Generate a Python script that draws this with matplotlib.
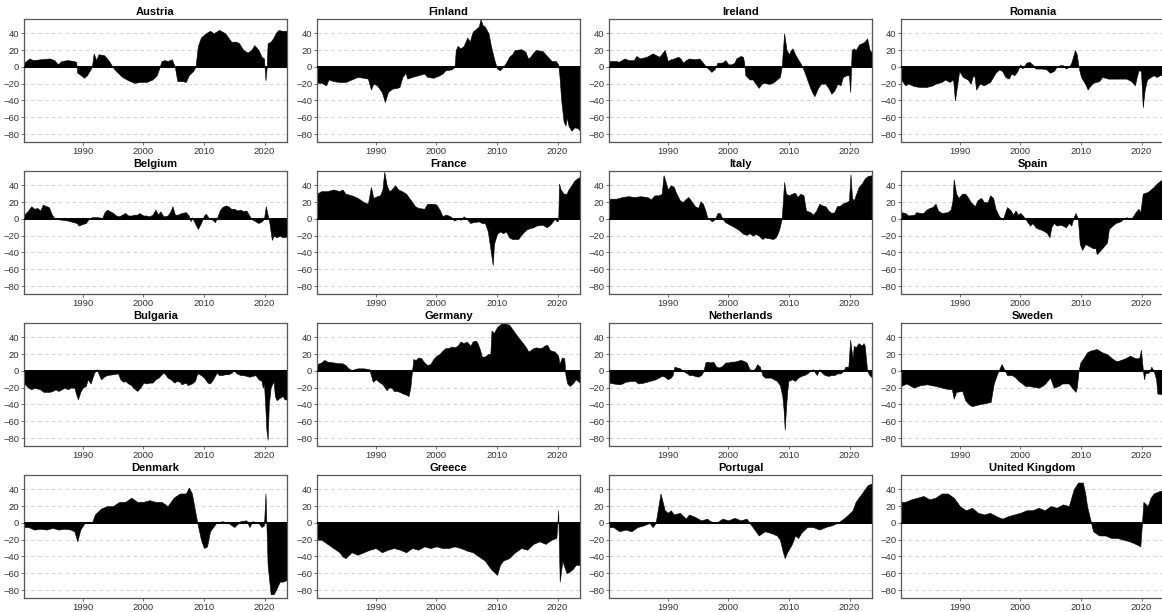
import numpy as np
import matplotlib
matplotlib.use("Agg")
import matplotlib.pyplot as plt

plt.rcParams['font.family'] = ['Liberation Sans', 'DejaVu Sans']

countries = ["Austria", "Finland", "Ireland", "Romania",
             "Belgium", "France", "Italy", "Spain",
             "Bulgaria", "Germany", "Netherlands", "Sweden",
             "Denmark", "Greece", "Portugal", "United Kingdom"]

y_ticks = [-80, -60, -40, -20, 0, 20, 40]
x_ticks = [1990, 2000, 2010, 2020]

austria = [(1980.3,5),(1981.2,10),(1981.8,8),(1983,9),(1984.5,10),(1985.3,8),(1985.9,3),(1986.5,7),(1987.5,8),(1988.5,7),(1988.9,6),(1989.1,-7),(1989.7,-10),(1990.2,-13),(1990.7,-10),(1991.1,-5),(1991.5,0),(1991.8,16),(1992.2,8),(1992.6,15),(1993.5,14),(1994,10),(1994.5,5),(1994.9,0),(1995.5,-5),(1996.5,-12),(1997.5,-16),(1998.5,-19),(1999.5,-18),(2000.5,-18),(2001.5,-15),(2002.2,-10),(2002.6,-2),(2003,7),(2003.5,8),(2004,7),(2004.7,9),(2005.2,0),(2005.6,-17),(2006.5,-17),(2007,-18),(2007.5,-10),(2008.2,-5),(2008.6,0),(2009,25),(2009.5,35),(2010.3,40),(2011,43),(2011.6,40),(2012.5,44),(2013.5,40),(2014.5,30),(2015.3,30),(2015.8,28),(2016.5,20),(2017.2,17),(2017.8,20),(2018.3,26),(2019,20),(2019.5,12),(2019.9,10),(2020.15,-16),(2020.35,0),(2020.5,28),(2021,30),(2021.5,35),(2021.8,40),(2022.3,44),(2022.8,43),(2023.7,43)]

finland = [(1980.3,-19),(1981,-19),(1981.8,-22),(1982.2,-15),(1983,-17),(1984,-18),(1985,-18),(1986,-15),(1987,-12),(1988,-13),(1988.7,-14),(1989.2,-27),(1989.6,-20),(1990.2,-22),(1991,-30),(1991.5,-42),(1992,-30),(1992.7,-26),(1993.5,-25),(1993.9,-24),(1994.4,-12),(1994.9,-7),(1995.2,-14),(1996,-12),(1997,-10),(1998,-8),(1998.5,-12),(1999.5,-13),(2000.5,-10),(2001,-8),(2001.5,-4),(2002.5,-3),(2003,0),(2003.2,20),(2003.5,25),(2004,22),(2004.5,25),(2005.1,35),(2005.5,30),(2006,42),(2006.5,45),(2007,48),(2007.3,57),(2007.6,50),(2008,48),(2008.6,40),(2009,25),(2009.5,10),(2010,-2),(2010.5,-4),(2011,0),(2011.5,5),(2012,12),(2012.5,15),(2012.9,20),(2014,21),(2014.7,18),(2015.1,10),(2015.5,12),(2016,17),(2016.4,20),(2017.5,19),(2018,15),(2019,7),(2019.7,7),(2020.1,3),(2020.3,-10),(2020.6,-40),(2021,-65),(2021.3,-70),(2021.5,-60),(2021.8,-70),(2022.3,-76),(2022.8,-72),(2023.3,-73),(2023.7,-76)]

ireland = [(1980.3,7),(1981.5,7),(1981.9,6),(1982.9,10),(1983.5,8),(1984.4,8),(1984.8,13),(1985.4,10),(1986.5,12),(1987.5,16),(1988.6,12),(1989.5,20),(1990,7),(1990.5,9),(1991,10),(1991.7,12),(1992.1,10),(1992.5,5),(1993,8),(1993.5,10),(1994.5,9),(1995.2,10),(1995.8,5),(1996.3,0),(1996.8,-3),(1997.2,-6),(1997.8,-2),(1998.2,5),(1999,5),(1999.5,8),(2000,3),(2000.5,3),(2001,5),(2001.3,10),(2002,13),(2002.4,12),(2002.6,5),(2002.8,-10),(2003.5,-15),(2004,-15),(2004.5,-20),(2005,-25),(2005.5,-20),(2006,-19),(2006.5,-20),(2007,-20),(2007.5,-18),(2008,-15),(2008.5,-12),(2008.8,0),(2009.2,40),(2009.6,20),(2010,15),(2010.3,20),(2010.6,22),(2011,15),(2011.4,10),(2012,3),(2012.5,-5),(2013,-15),(2013.5,-25),(2013.8,-30),(2014.2,-35),(2014.8,-25),(2015.3,-20),(2016,-20),(2016.5,-25),(2017,-32),(2017.5,-28),(2018,-20),(2018.5,-22),(2018.9,-12),(2019.5,-10),(2019.9,-10),(2020.1,-30),(2020.2,-10),(2020.35,20),(2020.7,22),(2021,20),(2021.6,27),(2022,28),(2022.5,30),(2022.9,34),(2023.3,20),(2023.7,17)]

romania = [(1980.3,-15),(1981,-22),(1981.5,-20),(1982.5,-23),(1983.5,-24),(1984.5,-24),(1985.5,-22),(1986,-20),(1987,-18),(1987.6,-15),(1988.3,-18),(1988.9,-15),(1989.2,-40),(1989.5,-25),(1989.9,-5),(1990.5,-12),(1991.3,-15),(1991.8,-20),(1992.1,-12),(1992.4,-10),(1992.7,-27),(1993.3,-20),(1994,-22),(1995,-18),(1995.9,-7),(1996.5,-3),(1997,-5),(1997.5,-12),(1998.1,-14),(1998.5,-8),(1999,-10),(1999.5,-5),(2000,3),(2000.3,-2),(2000.7,2),(2001,5),(2001.5,6),(2002.1,2),(2002.5,-2),(2003.5,-2),(2004.3,-3),(2004.9,-7),(2005.5,-5),(2006,0),(2006.5,2),(2007,2),(2007.5,-2),(2008,0),(2008.4,5),(2009,20),(2009.3,15),(2009.6,0),(2010,-12),(2010.5,-18),(2010.8,-22),(2011.1,-27),(2011.6,-22),(2012,-19),(2013,-17),(2013.5,-12),(2014.5,-14),(2016,-14),(2017.5,-14),(2018.3,-17),(2018.9,-22),(2019.2,-12),(2019.5,-4),(2019.9,-5),(2020.2,-48),(2020.5,-28),(2020.9,-15),(2021.5,-12),(2022,-10),(2022.5,-12),(2023,-10),(2023.7,-9)]

belgium = [(1980.3,5),(1981,10),(1981.5,15),(1982,12),(1982.5,13),(1983,10),(1983.4,17),(1984,15),(1984.4,14),(1984.9,5),(1985.4,0),(1986.5,-1),(1987.5,-2),(1988.5,-4),(1989,-5),(1989.3,-8),(1990,-6),(1990.5,-5),(1991,0),(1991.5,2),(1992.5,2),(1993.2,1),(1993.6,8),(1994,11),(1994.5,9),(1995,7),(1995.5,4),(1996,3),(1996.5,5),(1997,7),(1997.5,4),(1998,4),(1998.5,5),(1999,5),(1999.3,7),(2000,4),(2000.5,4),(2001,3),(2001.5,5),(2002,11),(2002.4,5),(2002.8,9),(2003.3,3),(2004,4),(2004.4,8),(2004.8,15),(2005.2,5),(2005.7,5),(2006.3,7),(2007,8),(2007.5,4),(2007.8,-3),(2008,2),(2008.3,-2),(2008.7,-8),(2009,-12),(2009.5,-5),(2010,4),(2010.3,6),(2010.7,2),(2011,0),(2011.4,-1),(2011.8,-4),(2012.2,2),(2012.6,10),(2013,14),(2013.6,16),(2014,15),(2014.5,12),(2015,12),(2015.5,10),(2016,11),(2016.5,9),(2017,10),(2017.4,5),(2017.8,0),(2018.5,-3),(2019,-5),(2019.5,-3),(2019.9,0),(2020.2,15),(2020.5,5),(2020.8,-5),(2021,-15),(2021.2,-25),(2021.5,-20),(2022,-22),(2022.5,-20),(2023,-22),(2023.7,-21)]

france = [(1980.3,30),(1981,33),(1982,33),(1983,35),(1984,33),(1984.5,35),(1985,30),(1986,28),(1987,25),(1988,20),(1988.7,18),(1989.2,38),(1989.6,25),(1990.2,27),(1990.7,28),(1991.1,35),(1991.4,56),(1991.8,40),(1992.2,33),(1992.6,35),(1993.2,40),(1993.7,35),(1994.3,33),(1995,30),(1995.8,22),(1996.5,15),(1997,13),(1998,12),(1998.5,18),(1999.5,18),(2000,17),(2000.6,10),(2001,3),(2001.5,5),(2002,4),(2002.5,2),(2002.9,-2),(2003.5,0),(2004,-1),(2004.5,3),(2005,0),(2005.6,-5),(2006,-4),(2007,-3),(2007.5,-5),(2008,-5),(2008.5,-15),(2009,-40),(2009.3,-55),(2009.5,-30),(2010,-18),(2010.5,-15),(2011,-17),(2011.5,-15),(2012,-22),(2012.5,-24),(2013.5,-24),(2013.9,-20),(2014.5,-15),(2015,-12),(2016,-10),(2016.5,-8),(2017.5,-7),(2018.2,-10),(2018.6,-8),(2019,-5),(2019.5,0),(2019.9,-3),(2020.1,-2),(2020.25,42),(2020.5,35),(2021,30),(2021.5,30),(2021.8,35),(2022.3,40),(2022.7,45),(2023.2,48),(2023.7,50)]

italy = [(1980.3,24),(1981.5,24),(1982.5,26),(1983.5,27),(1984.5,26),(1985.5,27),(1986.5,26),(1986.9,25),(1987.2,23),(1987.8,28),(1988.5,28),(1989,30),(1989.3,52),(1989.6,45),(1990,35),(1990.5,40),(1991,38),(1991.3,32),(1992,22),(1992.5,20),(1993,24),(1993.4,26),(1994,20),(1994.5,15),(1995,13),(1995.4,21),(1995.8,18),(1996.2,10),(1996.5,2),(1996.8,0),(1997.3,-3),(1997.8,0),(1998.2,7),(1998.6,7),(1999,0),(1999.5,-4),(2000,-6),(2000.5,-8),(2001,-10),(2001.5,-12),(2002,-15),(2002.5,-18),(2003,-19),(2003.5,-17),(2004,-20),(2004.5,-18),(2005,-20),(2005.6,-24),(2006,-22),(2006.6,-23),(2007.4,-24),(2007.8,-22),(2008.1,-18),(2008.4,-12),(2008.8,0),(2009.2,44),(2009.5,30),(2010,28),(2010.5,30),(2011,31),(2011.4,26),(2011.9,30),(2012.4,28),(2012.8,10),(2013.5,8),(2014,5),(2014.5,10),(2015,18),(2015.5,16),(2016,15),(2016.5,10),(2017,7),(2017.5,8),(2017.9,15),(2018.5,16),(2019,19),(2019.5,20),(2019.9,22),(2020.15,53),(2020.4,25),(2020.7,22),(2021,28),(2021.5,38),(2022,42),(2022.5,48),(2023,51),(2023.7,52)]

spain = [(1980.3,8),(1981,7),(1981.5,4),(1982.5,5),(1982.8,8),(1983.5,7),(1984,7),(1984.5,11),(1985,13),(1985.5,14),(1986,18),(1986.4,10),(1987,7),(1988,8),(1988.5,11),(1988.8,22),(1989,47),(1989.4,30),(1989.8,25),(1990.4,30),(1990.9,30),(1991.4,25),(1991.8,20),(1992.5,15),(1992.9,22),(1993.5,25),(1994,20),(1994.6,20),(1995,28),(1995.5,25),(1995.9,12),(1996.5,3),(1997.1,-1),(1997.5,8),(1997.8,14),(1998.4,10),(1998.8,5),(1999.2,10),(1999.6,5),(2000,7),(2000.5,3),(2001,-2),(2001.6,-8),(2002,-5),(2002.5,-10),(2003,-12),(2003.5,-13),(2004,-15),(2004.4,-17),(2004.8,-22),(2005.1,-10),(2005.5,-5),(2006,-8),(2006.5,-7),(2007,-8),(2007.5,-10),(2008,-5),(2008.4,-8),(2008.8,2),(2009.1,7),(2009.5,0),(2009.8,-30),(2010.2,-37),(2010.7,-30),(2011.5,-33),(2012,-35),(2012.4,-35),(2012.6,-42),(2013.5,-35),(2014.3,-28),(2014.6,-12),(2015.2,-8),(2015.7,-5),(2016.5,-3),(2017,0),(2017.5,2),(2018,0),(2018.5,2),(2019,8),(2019.5,12),(2019.8,8),(2020.2,30),(2021,32),(2021.5,35),(2022,38),(2022.5,42),(2023,45),(2023.7,48)]

bulgaria = [(1980.3,-15),(1981,-20),(1981.5,-22),(1982,-20),(1983,-22),(1983.5,-25),(1984.5,-25),(1985,-24),(1985.5,-22),(1986,-24),(1986.5,-22),(1987,-20),(1987.5,-22),(1988,-20),(1988.6,-20),(1989,-30),(1989.2,-34),(1989.6,-25),(1990,-20),(1990.5,-18),(1990.8,-10),(1991.3,-15),(1991.6,-8),(1991.9,-2),(1992.3,2),(1992.7,-5),(1993,-10),(1993.5,-7),(1994,-5),(1995,-4),(1995.8,-3),(1996.2,-10),(1996.7,-13),(1997,-12),(1997.5,-15),(1998,-17),(1998.3,-20),(1999,-24),(1999.5,-20),(2000,-14),(2000.5,-15),(2001,-14),(2001.5,-14),(2002,-10),(2002.5,-8),(2002.9,-5),(2003.3,-2),(2003.7,-5),(2004,-8),(2004.5,-10),(2005.1,-14),(2005.5,-12),(2006,-13),(2006.3,-16),(2007,-14),(2007.3,-17),(2008,-15),(2008.5,-12),(2008.9,-3),(2009.5,-5),(2010,-8),(2010.6,-14),(2011,-15),(2011.5,-10),(2012.1,-2),(2012.5,-5),(2013,-5),(2013.5,-4),(2014,-4),(2014.6,-2),(2014.9,1),(2015.4,-3),(2016,-5),(2016.5,-5),(2017,-6),(2017.5,-7),(2018,-6),(2018.5,-5),(2019,-10),(2019.5,-12),(2019.7,-20),(2019.9,-15),(2020.1,-40),(2020.3,-70),(2020.5,-82),(2020.7,-40),(2021,-20),(2021.3,-15),(2021.5,-13),(2021.7,-30),(2022,-35),(2022.5,-32),(2023,-30),(2023.3,-34),(2023.7,-34)]

germany = [(1980.3,8),(1981,10),(1981.5,13),(1982,11),(1983,10),(1984,9),(1984.5,9),(1985,7),(1985.5,3),(1986,1),(1986.5,2),(1987,3),(1988,3),(1988.9,2),(1989.2,-5),(1989.5,-13),(1990,-10),(1990.5,-13),(1991.1,-16),(1991.5,-20),(1991.8,-23),(1992.1,-20),(1992.6,-20),(1993,-24),(1993.5,-24),(1993.9,-25),(1994.5,-27),(1994.9,-28),(1995.4,-30),(1995.7,-20),(1995.9,-5),(1996.2,14),(1996.6,13),(1997,16),(1997.5,15),(1998,10),(1998.5,7),(1999,8),(1999.5,14),(2000,18),(2000.5,20),(2001,24),(2001.5,27),(2002,27),(2002.5,29),(2003,28),(2003.5,30),(2004,35),(2004.5,33),(2005,35),(2005.6,30),(2006,35),(2006.5,36),(2006.8,33),(2007.2,25),(2007.5,17),(2008,17),(2008.5,20),(2008.9,20),(2009.1,48),(2009.5,45),(2010,52),(2010.5,55),(2010.9,57),(2011.5,56),(2012,55),(2012.5,50),(2013.5,40),(2014.6,30),(2015.2,23),(2015.6,25),(2016,27),(2016.5,28),(2017,27),(2017.5,28),(2017.8,30),(2018.3,31),(2018.7,25),(2019,24),(2019.5,23),(2020.1,18),(2020.3,8),(2020.7,16),(2021.1,15),(2021.3,-5),(2021.6,-15),(2022,-18),(2022.5,-15),(2023,-10),(2023.3,-12),(2023.7,-14)]

netherlands = [(1980.3,-14),(1981,-15),(1982,-16),(1982.5,-15),(1983,-13),(1984,-12),(1984.6,-12),(1985.1,-15),(1986,-14),(1987,-12),(1988,-10),(1988.5,-8),(1989,-6),(1989.5,-7),(1990,-10),(1990.5,-8),(1990.8,-5),(1991.1,5),(1991.5,4),(1992,3),(1992.5,0),(1993.2,-3),(1993.5,-5),(1994,-5),(1994.5,-6),(1995,-7),(1995.5,-5),(1995.9,0),(1996.2,10),(1996.5,11),(1997,10),(1997.5,11),(1998,5),(1998.5,4),(1999,6),(1999.5,10),(2000,10),(2000.5,11),(2001,11),(2001.5,12),(2002,13),(2002.5,12),(2003,10),(2003.5,2),(2004,0),(2004.4,3),(2004.75,8),(2005.2,5),(2005.6,-5),(2006,-8),(2007,-8),(2007.5,-10),(2008,-12),(2008.5,-17),(2008.9,-30),(2009.1,-45),(2009.3,-70),(2009.5,-45),(2009.7,-25),(2009.9,-12),(2010.5,-10),(2011,-12),(2011.5,-8),(2012,-6),(2012.5,-5),(2013,-3),(2013.5,0),(2014,2),(2014.3,-2),(2014.6,-5),(2015,2),(2015.4,-2),(2015.9,-5),(2016.5,-6),(2017,-5),(2017.5,-5),(2018,-3),(2018.5,-3),(2019,0),(2019.3,5),(2019.8,5),(2020.1,37),(2020.3,25),(2020.5,15),(2020.7,30),(2021,28),(2021.5,33),(2022,30),(2022.3,33),(2022.5,30),(2022.9,0),(2023.3,-5),(2023.7,-8)]

sweden = [(1980.3,-18),(1981.2,-15),(1982.4,-20),(1983.5,-17),(1984.6,-16),(1986,-18),(1987.6,-21),(1988.7,-22),(1989,-33),(1989.4,-25),(1990.4,-24),(1990.9,-35),(1991.5,-40),(1992,-42),(1993.1,-40),(1994.5,-38),(1995.1,-37),(1995.6,-15),(1996.2,-3),(1996.9,8),(1997.3,2),(1997.8,-5),(1998.6,-5),(1999.2,-8),(1999.7,-12),(2000.3,-15),(2000.8,-18),(2001.4,-18),(2003,-20),(2003.6,-18),(2004.1,-15),(2004.9,-8),(2005.5,-20),(2006.3,-18),(2006.9,-15),(2008,-15),(2008.5,-20),(2009.1,-25),(2009.3,-20),(2009.6,0),(2009.9,10),(2010.4,15),(2011,22),(2011.5,24),(2012.6,26),(2013.5,22),(2014.3,20),(2015.1,15),(2015.7,12),(2016.2,12),(2017.3,15),(2018.1,18),(2019,15),(2019.6,15),(2019.9,25),(2020.2,2),(2020.4,-10),(2020.6,-3),(2021.2,-2),(2021.6,5),(2022,0),(2022.4,-10),(2022.6,-27),(2023.7,-28)]

denmark = [(1980.3,-5),(1981,-5),(1982,-8),(1983,-7),(1984,-8),(1985,-6),(1986,-8),(1987,-7),(1988,-8),(1988.6,-10),(1989.1,-22),(1989.6,-8),(1990.3,0),(1991.5,0),(1992,10),(1993,17),(1994,20),(1995,20),(1996,25),(1997,25),(1998,30),(1999,25),(2000,25),(2001,27),(2002,25),(2003,25),(2004,20),(2005,30),(2006,35),(2007,35),(2007.5,42),(2008,35),(2008.9,0),(2009.5,-20),(2010,-30),(2010.5,-28),(2011,-10),(2011.5,-5),(2012,0),(2013,2),(2014,0),(2015,-5),(2016,2),(2017,3),(2017.5,-5),(2018,2),(2019,0),(2019.5,-5),(2019.9,-3),(2020.15,35),(2020.5,-50),(2021,-85),(2021.5,-85),(2022,-78),(2022.5,-70),(2023,-70),(2023.7,-68)]

greece = [(1980.3,-20),(1981,-20),(1982,-25),(1983,-30),(1984,-35),(1984.5,-40),(1985,-42),(1986,-35),(1987,-38),(1988,-35),(1989,-32),(1990,-30),(1991,-35),(1992,-32),(1993,-30),(1994,-32),(1995,-35),(1996,-30),(1997,-32),(1998,-28),(1999,-30),(2000,-28),(2001,-30),(2002,-30),(2003,-28),(2004,-30),(2005,-33),(2006,-35),(2007,-40),(2008,-45),(2009,-55),(2010,-62),(2010.5,-50),(2011,-45),(2012,-42),(2013,-35),(2014,-30),(2015,-32),(2016,-25),(2017,-22),(2018,-25),(2019,-20),(2019.8,-18),(2020.1,15),(2020.35,-70),(2020.8,-45),(2021,-50),(2021.5,-60),(2022,-58),(2022.5,-55),(2023,-50),(2023.7,-50)]

portugal = [(1980.3,-5),(1981,-5),(1982,-10),(1983,-8),(1984,-10),(1985,-5),(1986,-3),(1987,0),(1987.5,-5),(1988,0),(1988.8,35),(1989.5,15),(1990,12),(1990.5,15),(1991,10),(1992,12),(1993,5),(1993.5,10),(1994.5,7),(1995.5,3),(1996.5,5),(1997,2),(1998,0),(1999,5),(2000,3),(2001,6),(2002,3),(2003,5),(2004,-5),(2004.5,-10),(2005,-15),(2006,-10),(2007,-12),(2008,-15),(2008.5,-20),(2009,-35),(2009.3,-42),(2009.7,-35),(2010.5,-25),(2011,-15),(2011.5,-18),(2012,-12),(2013,-5),(2014,-5),(2015,-8),(2016,-5),(2017,-3),(2018,0),(2019,5),(2019.8,10),(2020.5,15),(2021,25),(2022,35),(2023,45),(2023.7,47)]

united_kingdom = [(1980.3,25),(1981,25),(1982,28),(1983,30),(1984,32),(1985,28),(1986,30),(1987,35),(1988,35),(1989,30),(1990,20),(1991,15),(1992,18),(1993,12),(1994,10),(1995,12),(1996,8),(1997,5),(1998,8),(1999,10),(2000,12),(2001,15),(2002,15),(2003,18),(2004,15),(2005,20),(2006,18),(2007,22),(2008,20),(2008.8,40),(2009.5,48),(2010.3,48),(2010.7,35),(2011,20),(2011.5,5),(2012,-10),(2013,-15),(2014,-15),(2015,-18),(2016,-18),(2017,-20),(2018,-22),(2019,-25),(2019.8,-28),(2020.3,25),(2021,20),(2021.5,30),(2022,35),(2023,38),(2023.7,38)]

series = [austria, finland, ireland, romania,
          belgium, france, italy, spain,
          bulgaria, germany, netherlands, sweden,
          denmark, greece, portugal, united_kingdom]

W, H = 1162, 612
fig = plt.figure(figsize=(W / 100, H / 100), dpi=100)

col_left = [24, 317, 609, 901]
ax_w = 263
row_top = [19, 171, 323, 475]
ax_h = 123

for i, (name, data) in enumerate(zip(countries, series)):
    r, c = divmod(i, 4)
    ax = fig.add_axes([col_left[c] / W, 1 - (row_top[r] + ax_h) / H, ax_w / W, ax_h / H])
    t = np.array([p[0] for p in data])
    v = np.array([p[1] for p in data])
    ax.set_xlim(1980.3, 2023.7)
    ax.set_ylim(-89.5, 57)
    for yv in y_ticks:
        if yv != 0:
            ax.axhline(yv, color='#D4D4D4', lw=0.7, ls=(0, (4, 3)), zorder=0)
    ax.fill_between(t, v, 0, color='black', lw=0.4, edgecolor='black', zorder=2)
    ax.axhline(0, color='black', lw=1.4, zorder=3)
    ax.set_yticks(y_ticks)
    ax.set_xticks(x_ticks)
    ax.tick_params(axis='both', labelsize=6.8, labelcolor='#333333', color='#555555',
                   length=2, width=0.6, pad=1.5)
    for s in ax.spines.values():
        s.set_color('#555555')
        s.set_linewidth(0.9)
    ax.set_title(name, fontsize=8, fontweight='bold', pad=3)

fig.savefig("out.png", dpi=100)
